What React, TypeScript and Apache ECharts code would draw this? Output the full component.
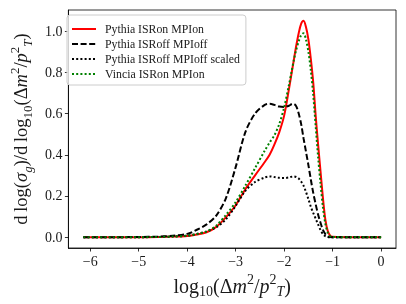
import React, { useEffect, useRef } from 'react';
import * as echarts from 'echarts';

// x grid: log10(Δm²/p_T²)
const xs = [-6.14, -5.5, -5.0, -4.6, -4.3, -4.0, -3.8, -3.6, -3.4, -3.2, -3.0, -2.8, -2.6, -2.4, -2.3, -2.2, -2.1, -2.0, -1.9, -1.85, -1.8, -1.75, -1.7, -1.65, -1.6, -1.55, -1.5, -1.45, -1.4, -1.35, -1.3, -1.25, -1.2, -1.15, -1.1, -1.05, -1.0, -0.5, 0];

const pythiaOn = [0, 0, 0, 0.001, 0.003, 0.006, 0.013, 0.024, 0.05, 0.097, 0.155, 0.233, 0.3, 0.365, 0.4, 0.45, 0.51, 0.59, 0.72, 0.79, 0.86, 0.93, 0.99, 1.035, 1.05, 1.02, 0.96, 0.865, 0.75, 0.59, 0.45, 0.32, 0.19, 0.085, 0.03, 0.008, 0.002, 0, 0];
const pythiaOff = [0, 0, 0.001, 0.003, 0.007, 0.016, 0.036, 0.062, 0.105, 0.19, 0.34, 0.51, 0.6, 0.642, 0.647, 0.642, 0.634, 0.632, 0.638, 0.645, 0.647, 0.635, 0.6, 0.55, 0.48, 0.415, 0.35, 0.28, 0.215, 0.16, 0.11, 0.07, 0.035, 0.015, 0.004, 0.001, 0, 0, 0];
const pythiaOffScaled = [0, 0, 0, 0.001, 0.003, 0.007, 0.016, 0.028, 0.048, 0.087, 0.152, 0.225, 0.268, 0.29, 0.295, 0.292, 0.288, 0.287, 0.29, 0.293, 0.295, 0.292, 0.285, 0.27, 0.25, 0.22, 0.185, 0.148, 0.118, 0.09, 0.062, 0.035, 0.015, 0.005, 0.001, 0, 0, 0, 0];
const vinciaOn = [0, 0, 0, 0.001, 0.003, 0.007, 0.015, 0.027, 0.056, 0.108, 0.17, 0.25, 0.335, 0.42, 0.46, 0.495, 0.55, 0.63, 0.74, 0.8, 0.86, 0.91, 0.95, 0.98, 0.99, 0.96, 0.9, 0.81, 0.69, 0.54, 0.39, 0.26, 0.145, 0.065, 0.022, 0.005, 0.001, 0, 0];

const seriesNames = ['Pythia ISRon MPIon', 'Pythia ISRoff MPIoff', 'Pythia ISRoff MPIoff scaled', 'Vincia ISRon MPIon'];
const xTicks = [-6, -5, -4, -3, -2, -1, 0];
const yTicks = [0, 0.2, 0.4, 0.6, 0.8, 1.0];

const FONT = "'Liberation Serif', 'DejaVu Serif', serif";
const INK = '#1a1a1a';

function makeRich(size: number) {
  const sub = Math.round(size * 0.7);
  return {
    r: { fontFamily: FONT, fontSize: size, color: INK, lineHeight: 26 },
    i: { fontFamily: FONT, fontSize: size, fontStyle: 'italic', color: INK, lineHeight: 26 },
    sb: { fontFamily: FONT, fontSize: sub, color: INK, verticalAlign: 'bottom', lineHeight: 15 },
    sbi: { fontFamily: FONT, fontSize: sub, fontStyle: 'italic', color: INK, verticalAlign: 'bottom', lineHeight: 15 },
    sp: { fontFamily: FONT, fontSize: sub, color: INK, verticalAlign: 'top', lineHeight: 15 },
  };
}

export default function App() {
  const ref = useRef<HTMLDivElement>(null);
  useEffect(() => {
    document.body.style.margin = '0';
    const chart = echarts.init(ref.current!, null, { renderer: 'svg' });
    const mk = (name: string, data: number[], color: string, type: any) => ({
      name,
      type: 'line',
      data: xs.map((x, i) => [x, data[i]]),
      showSymbol: false,
      symbol: 'none',
      smooth: 0.3,
      lineStyle: { color, width: 2, type },
      itemStyle: { color },
    });
    const fmtX = (v: number) => (v < 0 ? '\u2212' + Math.abs(v) : String(v));
    chart.setOption({
      animation: false,
      grid: { left: 61, right: 10, top: 10, bottom: 56, show: true, borderColor: '#000', borderWidth: 0.8, backgroundColor: 'transparent' },
      legend: {
        orient: 'vertical',
        left: 67,
        top: 15,
        data: seriesNames,
        itemWidth: 24,
        itemHeight: 10,
        itemGap: 3,
        padding: [8, 6, 5, 4],
        backgroundColor: 'rgba(255,255,255,0.8)',
        borderColor: '#cccccc',
        borderWidth: 1,
        borderRadius: 3,
        itemStyle: { opacity: 0 },
        formatter: (n: string) => '{t|' + n + '}',
        textStyle: {
          fontFamily: FONT, fontSize: 11.8, color: INK,
          rich: { t: { fontFamily: FONT, fontSize: 11.8, color: INK, lineHeight: 14, padding: [0, 0, 0, 4] } },
        },
      },
      xAxis: {
        type: 'value',
        min: -6.45,
        max: 0.307,
        name: '{r|log}{sb|10}{r|(Δ}{i|m}{sp|2}{r|/}{i|p}{sp|2}{sbi|T}{r|)}',
        nameLocation: 'middle',
        nameGap: 14,
        nameTextStyle: { rich: makeRich(20) },
        axisLine: { show: true, onZero: false, lineStyle: { color: '#000', width: 0.8 } },
        axisTick: { show: true, inside: false, length: 3.5, lineStyle: { color: '#000', width: 0.8 }, customValues: xTicks },
        axisLabel: { customValues: xTicks, formatter: fmtX, margin: 6, fontSize: 14, fontFamily: FONT, color: INK },
        splitLine: { show: false },
      },
      yAxis: {
        type: 'value',
        min: -0.0525,
        max: 1.1025,
        name: '{r|d\u2009log(}{i|σ}{sbi|g}{r|)/d\u2009log}{sb|10}{r|(Δ}{i|m}{sp|2}{r|/}{i|p}{sp|2}{sbi|T}{r|)}',
        nameLocation: 'middle',
        nameRotate: 90,
        nameGap: 29,
        nameTextStyle: { rich: makeRich(18.5) },
        axisLine: { show: true, onZero: false, lineStyle: { color: '#000', width: 0.8 } },
        axisTick: { show: true, inside: false, length: 3.5, lineStyle: { color: '#000', width: 0.8 }, customValues: yTicks },
        axisLabel: { customValues: yTicks, formatter: (v: number) => v.toFixed(1), margin: 6, fontSize: 14, fontFamily: FONT, color: INK },
        splitLine: { show: false },
      },
      series: [
        mk(seriesNames[0], pythiaOn, '#ff0000', 'solid'),
        mk(seriesNames[1], pythiaOff, '#000000', [6, 2.6]),
        mk(seriesNames[2], pythiaOffScaled, '#000000', [2, 2.2]),
        mk(seriesNames[3], vinciaOn, '#008000', [2, 2.2]),
      ],
    });
    return () => chart.dispose();
  }, []);
  return <div ref={ref} style={{ position: 'fixed', left: 0, top: 0, width: 406, height: 304 }} />;
}
